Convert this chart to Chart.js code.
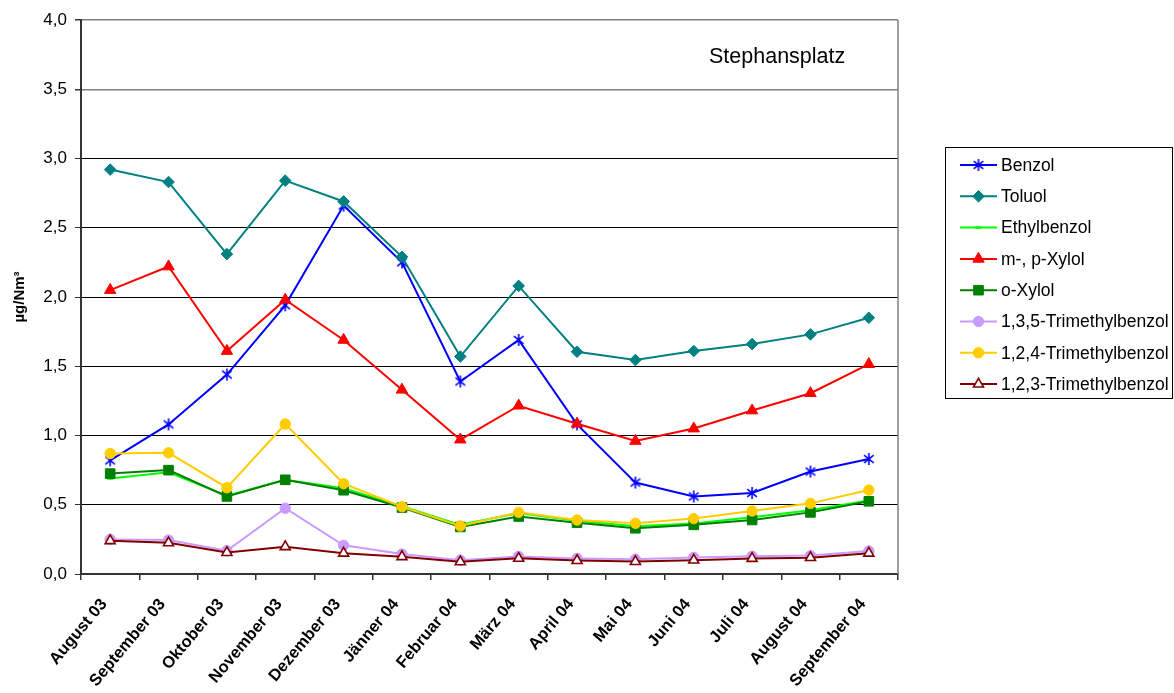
<!DOCTYPE html>
<html>
<head>
<meta charset="utf-8">
<script src="https://cdn.jsdelivr.net/npm/chart.js@4.4.1/dist/chart.umd.min.js"></script>
<style>
  html, body { margin: 0; padding: 0; background: #ffffff; }
  canvas { display: block; }
</style>
</head>
<body>
<canvas id="chart" width="1174" height="693"></canvas>
<script>
// Monthly means, Stephansplatz, in µg/Nm³
const months = ['August 03', 'September 03', 'Oktober 03', 'November 03', 'Dezember 03', 'Jänner 04',
  'Februar 04', 'März 04', 'April 04', 'Mai 04', 'Juni 04', 'Juli 04', 'August 04', 'September 04'];

const benzol    = [0.82, 1.08, 1.44, 1.94, 2.66, 2.25, 1.39, 1.69, 1.08, 0.66, 0.56, 0.585, 0.74, 0.83];
const toluol    = [2.92, 2.83, 2.31, 2.84, 2.69, 2.29, 1.57, 2.08, 1.605, 1.545, 1.61, 1.66, 1.73, 1.85];
const ethyl     = [0.69, 0.735, 0.565, 0.68, 0.62, 0.49, 0.355, 0.44, 0.385, 0.345, 0.365, 0.41, 0.46, 0.53];
const mpXylol   = [2.05, 2.22, 1.61, 1.98, 1.69, 1.33, 0.97, 1.215, 1.085, 0.96, 1.05, 1.18, 1.305, 1.515];
const oXylol    = [0.725, 0.75, 0.56, 0.68, 0.605, 0.48, 0.34, 0.415, 0.37, 0.33, 0.355, 0.39, 0.445, 0.525];
const tmb135    = [0.25, 0.245, 0.168, 0.475, 0.207, 0.144, 0.10, 0.127, 0.112, 0.106, 0.12, 0.128, 0.133, 0.166];
const tmb124    = [0.87, 0.875, 0.623, 1.083, 0.652, 0.486, 0.347, 0.445, 0.39, 0.366, 0.40, 0.455, 0.51, 0.606];
const tmb123    = [0.24, 0.225, 0.155, 0.197, 0.15, 0.125, 0.088, 0.113, 0.097, 0.09, 0.10, 0.112, 0.118, 0.15];

const seriesNames = ['Benzol', 'Toluol', 'Ethylbenzol', 'm-, p-Xylol', 'o-Xylol',
  '1,3,5-Trimethylbenzol', '1,2,4-Trimethylbenzol', '1,2,3-Trimethylbenzol'];

const yMin = 0, yMax = 4, yStep = 0.5;
const stationName = 'Stephansplatz';
const yTitle = 'µg/Nm³';

const FONT = '"Liberation Sans", Arial, sans-serif';

// Asterisk marker: X plus a vertical stroke
function asteriskMarker(color, size) {
  const c = document.createElement('canvas');
  c.width = size; c.height = size;
  const g = c.getContext('2d');
  const m = size / 2, r = size / 2 - 1;
  g.strokeStyle = color;
  g.lineWidth = 1.6;
  g.lineCap = 'butt';
  g.beginPath();
  g.moveTo(m, m - r); g.lineTo(m, m + r);
  const d = r * 0.8;
  g.moveTo(m - d, m - d * 0.8); g.lineTo(m + d, m + d * 0.8);
  g.moveTo(m - d, m + d * 0.8); g.lineTo(m + d, m - d * 0.8);
  g.stroke();
  return c;
}

const styles = [
  { color: '#0000ff', point: asteriskMarker('#0000ff', 14), radius: 6, fill: '#0000ff', bw: 1.5 },
  { color: '#008080', point: 'rectRot', radius: 5.8, fill: '#008080', bw: 1 },
  { color: '#00ff00', point: 'line', radius: 3, fill: '#00ff00', bw: 2.5 },
  { color: '#ff0000', point: 'triangle', radius: 6.6, fill: '#ff0000', bw: 1 },
  { color: '#008000', point: 'rect', radius: 6.8, fill: '#008000', bw: 1 },
  { color: '#cc99ff', point: 'circle', radius: 5.2, fill: '#cc99ff', bw: 1 },
  { color: '#ffcc00', point: 'circle', radius: 5.2, fill: '#ffcc00', bw: 1 },
  { color: '#800000', point: 'triangle', radius: 5.8, fill: '#ffffff', bw: 1.6 }
];

const seriesData = [benzol, toluol, ethyl, mpXylol, oXylol, tmb135, tmb124, tmb123];

const datasets = seriesData.map((values, i) => ({
  label: seriesNames[i],
  data: values,
  borderColor: styles[i].color,
  backgroundColor: styles[i].fill,
  borderWidth: 2,
  pointStyle: styles[i].point,
  pointRadius: styles[i].radius,
  pointHoverRadius: styles[i].radius,
  pointBackgroundColor: styles[i].fill,
  pointBorderColor: styles[i].color,
  pointBorderWidth: styles[i].bw,
  tension: 0,
  fill: false,
  // later series are painted over earlier ones
  order: seriesData.length - 1 - i
}));

// Frame on the right edge, station label and boxed legend
const decorations = {
  id: 'decorations',
  afterDraw(chart) {
    const { ctx, chartArea } = chart;
    ctx.save();
    // right frame edge
    ctx.strokeStyle = '#808080';
    ctx.lineWidth = 1.5;
    ctx.beginPath();
    ctx.moveTo(Math.round(chartArea.right), chartArea.top);
    ctx.lineTo(Math.round(chartArea.right), chartArea.bottom);
    ctx.stroke();

    // station label
    ctx.fillStyle = '#000';
    ctx.font = '21.5px ' + FONT;
    ctx.textAlign = 'left';
    ctx.textBaseline = 'middle';
    ctx.fillText(stationName, 709, 57);

    // legend box
    const bx = 945.5, by = 147.5, bw = 227, bh = 251;
    ctx.strokeStyle = '#000';
    ctx.lineWidth = 1;
    ctx.strokeRect(bx, by, bw, bh);

    const rowY0 = 165, rowStep = 31.3;
    const lineX0 = 960, lineX1 = 997, textX = 1001;
    ctx.font = '17.5px ' + FONT;
    chart.data.datasets.forEach((ds, i) => {
      const y = rowY0 + i * rowStep;
      ctx.strokeStyle = ds.borderColor;
      ctx.lineWidth = 2;
      ctx.beginPath();
      ctx.moveTo(lineX0, y);
      ctx.lineTo(lineX1, y);
      ctx.stroke();
      ctx.fillStyle = ds.pointBackgroundColor;
      ctx.strokeStyle = ds.pointBorderColor;
      ctx.lineWidth = ds.pointBorderWidth;
      Chart.helpers.drawPoint(ctx, {
        pointStyle: ds.pointStyle,
        radius: ds.pointRadius,
        rotation: 0,
        borderWidth: ds.pointBorderWidth
      }, (lineX0 + lineX1) / 2, y);
      ctx.fillStyle = '#000';
      ctx.textAlign = 'left';
      ctx.textBaseline = 'middle';
      ctx.fillText(ds.label, textX, y + 1);
    });
    ctx.restore();
  }
};

new Chart(document.getElementById('chart'), {
  type: 'line',
  data: { labels: months, datasets },
  plugins: [decorations],
  options: {
    responsive: false,
    animation: false,
    devicePixelRatio: 1,
    layout: { padding: { top: 20, right: 276, bottom: 0, left: 0 } },
    plugins: {
      legend: { display: false },
      tooltip: { enabled: false }
    },
    scales: {
      x: {
        type: 'category',
        offset: true,
        grid: {
          offset: true,
          drawOnChartArea: false,
          drawTicks: true,
          tickLength: 6,
          color: '#333',
          tickColor: '#333',
          lineWidth: 1.5
        },
        border: { color: '#333', width: 2 },
        ticks: {
          autoSkip: false,
          minRotation: 50,
          maxRotation: 50,
          padding: 15,
          labelOffset: -6,
          color: '#000',
          font: { family: FONT, size: 16.5, weight: 'bold' }
        },
        afterFit(scale) { scale.height = 119; }
      },
      y: {
        min: yMin,
        max: yMax,
        grid: {
          color: (c) => (c.tick && c.tick.value >= 3.5 ? '#808080' : '#000'),
          lineWidth: (c) => (c.tick && c.tick.value >= 3.5 ? 1.5 : 1),
          tickColor: '#333',
          tickLength: 6
        },
        border: { color: '#333', width: 2 },
        ticks: {
          stepSize: yStep,
          padding: 8,
          color: '#000',
          font: { family: FONT, size: 17 },
          callback: (v) => Number(v).toFixed(1).replace('.', ',')
        },
        title: {
          display: true,
          text: yTitle,
          color: '#000',
          padding: { top: 11, bottom: 0 },
          font: { family: FONT, size: 15, weight: 'bold' }
        },
        afterFit(scale) { scale.width = 81; }
      }
    }
  }
});
</script>
</body>
</html>
